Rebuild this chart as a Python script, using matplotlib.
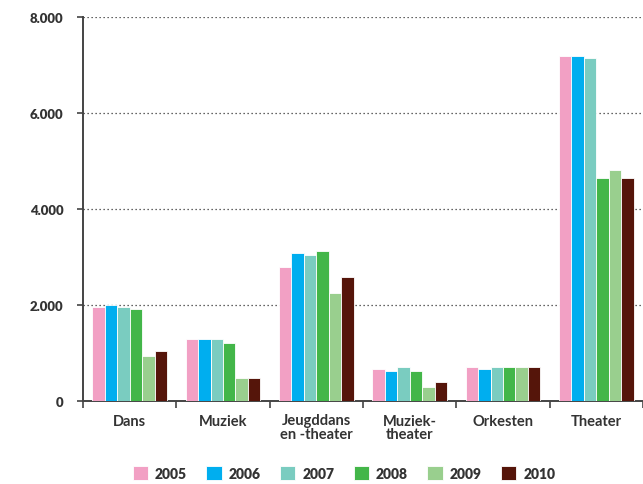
import matplotlib
matplotlib.use("Agg")
import matplotlib.pyplot as plt
from matplotlib.ticker import FixedLocator, NullFormatter, FuncFormatter
import numpy as np

categories = ["Dans", "Muziek", "Jeugddans\nen -theater", "Muziek-\ntheater", "Orkesten", "Theater"]
years = ["2005", "2006", "2007", "2008", "2009", "2010"]
values = {
    "2005": [1965, 1300, 2790, 670, 713, 7190],
    "2006": [2000, 1300, 3080, 630, 670, 7190],
    "2007": [1960, 1300, 3040, 713, 713, 7150],
    "2008": [1917, 1211, 3122, 630, 713, 4654],
    "2009": [928, 471, 2250, 297, 713, 4820],
    "2010": [1052, 471, 2582, 387, 713, 4654],
}
colors = ["#f2a0c4", "#00aeef", "#7accc0", "#43b649", "#99cf8e", "#55150a"]
yticks = [0, 2000, 4000, 6000, 8000]

plt.rcParams['font.family'] = ['Lato', 'DejaVu Sans']
text_color = "#333333"

fig = plt.figure(figsize=(6.43, 4.85), dpi=100)
ax = fig.add_axes([83/643, 1-402/485, 1-83/643, (402-18)/485])

x = np.arange(len(categories))
n = len(years)
bw = 0.8 / n
for i, (yr, c) in enumerate(zip(years, colors)):
    ax.bar(x - 0.4 + bw*(i+0.5), values[yr], width=bw, color=c,
           edgecolor="white", linewidth=0.6, label=yr, zorder=3)

ax.set_xlim(-0.5, len(categories)-0.5)
ax.set_ylim(0, 8000)

for s in ["top", "right"]:
    ax.spines[s].set_visible(False)
for s in ["left", "bottom"]:
    ax.spines[s].set_color("#444444")
    ax.spines[s].set_linewidth(1.4)

ax.set_yticks(yticks)
ax.yaxis.set_major_formatter(FuncFormatter(lambda v, p: f"{int(v):,}".replace(",", ".")))
ax.tick_params(axis="y", length=4, width=1.2, color="#444444", pad=10,
               labelsize=9.5, labelcolor=text_color)
for lbl in ax.get_yticklabels():
    lbl.set_fontweight("heavy")

ax.xaxis.set_major_locator(FixedLocator(np.arange(-0.5, len(categories), 1.0)))
ax.xaxis.set_major_formatter(NullFormatter())
ax.xaxis.set_minor_locator(FixedLocator(x))
ax.set_xticklabels(categories, minor=True)
ax.tick_params(axis="x", which="major", length=5, width=1.2, color="#444444", direction="out")
ax.tick_params(axis="x", which="minor", length=0, pad=9, labelsize=10.5, labelcolor=text_color)
for lbl in ax.get_xticklabels(minor=True):
    lbl.set_fontweight("bold")
    lbl.set_linespacing(0.95)

for yv in yticks[1:]:
    ax.axhline(yv, color="#333333", linestyle=(0, (1, 2.2)), linewidth=0.9, zorder=1)

leg = fig.legend(loc="center", bbox_to_anchor=(0.535, 1-474/485), ncol=6, frameon=False,
                 handlelength=1.1, handleheight=1.1, handletextpad=0.5, columnspacing=1.4,
                 prop={"size": 10, "weight": "heavy"})
for t in leg.get_texts():
    t.set_color(text_color)

fig.savefig("out.png", dpi=100)
